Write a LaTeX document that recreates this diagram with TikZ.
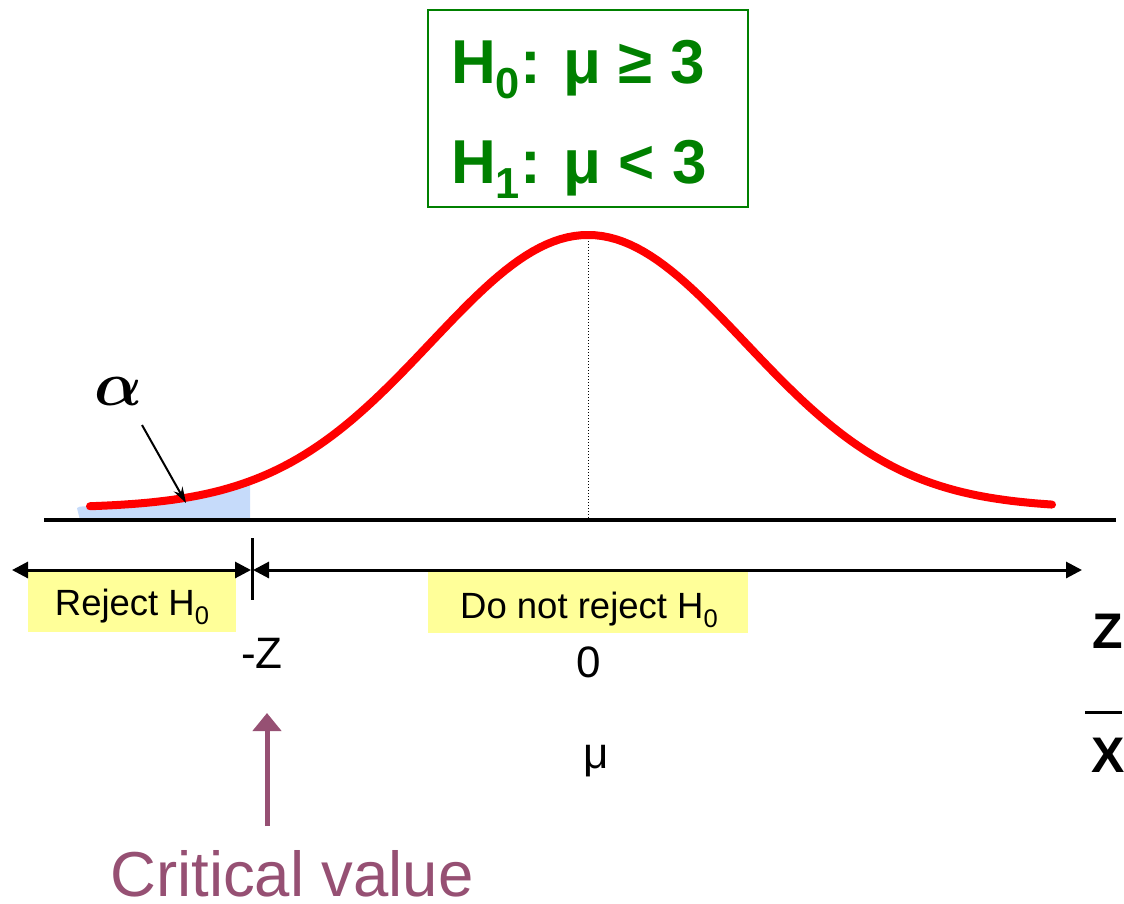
\documentclass[tikz,border=0pt]{standalone}
\usepackage{amsmath}
\usepackage{fontspec}
\setmainfont{Liberation Sans}
\usepackage{graphicx}
\usetikzlibrary{arrows.meta}
\definecolor{hgreen}{RGB}{0,128,0}
\definecolor{tailblue}{RGB}{198,219,250}
\definecolor{critpurple}{RGB}{150,80,115}
\definecolor{lbl}{RGB}{255,255,153}
\newcommand{\fs}[1]{\fontsize{#1}{#1}\selectfont}
\newcommand{\lowsub}[1]{\raisebox{-0.25em}{\scalebox{0.7}{#1}}}
\begin{document}
\begin{tikzpicture}[x=1pt,y=-1pt,
  hyp/.style={draw=hgreen, line width=1.6pt, minimum width=320pt, minimum height=197pt, inner sep=0pt},
  hyptext/.style={anchor=base west, text=hgreen, font=\fs{62}\bfseries, inner sep=0pt},
  zone/.style={fill=lbl, inner sep=0pt},
  zonetext/.style={font=\fs{36.5}, anchor=base, inner sep=0pt},
  axislbl/.style={font=\fs{44}, anchor=base, inner sep=0pt},
  varlbl/.style={font=\fs{50}\bfseries, anchor=base, inner sep=0pt},
  rangearrow/.style={line width=3pt, {Triangle[length=16pt,width=16pt]}-{Triangle[length=16pt,width=16pt]}},
  bell/.style={red, line width=8pt, line cap=round, line join=round},
  critarrow/.style={critpurple, line width=5pt, -{Triangle[length=18pt,width=28pt]}},
  critlbl/.style={text=critpurple, font=\fs{63.5}, anchor=base, inner sep=0pt}
]
\useasboundingbox (0,0) rectangle (1124,903);

% hypotheses box
\node[hyp] (hyp) at (588,108.5) {};
\node[hyptext] (h0) at (451,83) {H\lowsub{0}: μ ≥ 3};
\node[hyptext] (h1) at (451,183) {H\lowsub{1}: μ < 3};

% shaded tail
\fill[tailblue] (77,508) -- plot[domain=80:250,samples=30] (\x,{508-273*exp(-0.5*((\x-588)/157)^2)}) -- (250,520) -- (80,520) -- cycle;

% axis
\coordinate (axL) at (44,520);
\coordinate (axR) at (1116,520);
\coordinate (peak) at (588,235);
\coordinate (peakfoot) at (588,520);
\draw[line width=4pt] (axL) -- (axR);
\draw[dotted, line width=1pt] (peak) -- (peakfoot);

% bell curve
\draw[bell] plot[domain=90:1052,samples=140] (\x,{508-273*exp(-0.5*((\x-588)/157)^2)});

% alpha
\node[anchor=base, inner sep=0pt] (alpha) at (118,405) {\scalebox{6.3}{$\boldsymbol{\alpha}$}};
\coordinate (alphatail) at (142,425);
\coordinate (alphatip) at (186,503);
\draw[line width=2pt, -{Stealth[length=16pt,width=10pt]}] (alphatail) -- (alphatip);

% region labels
\node[zone, minimum width=208pt, minimum height=60pt] (rejbox) at (132,602) {};
\node[zonetext] (rej) at (132,615) {Reject H\lowsub{0}};
\node[zone, minimum width=320pt, minimum height=61pt] (dnrbox) at (588,602.5) {};
\node[zonetext] (dnr) at (589,618) {Do not reject H\lowsub{0}};

% range arrows
\coordinate (rL) at (12,570);
\coordinate (cL) at (251,570);
\coordinate (cR) at (253,570);
\coordinate (rR) at (1082,570);
\coordinate (tickT) at (252,538);
\coordinate (tickB) at (252,600);
\draw[rangearrow] (rL) -- (cL);
\draw[rangearrow] (cR) -- (rR);
\draw[line width=3pt] (tickT) -- (tickB);

% axis labels
\node[axislbl] (negz) at (262,668) {-Z};
\node[axislbl] (zero) at (589,677) {0};
\node[axislbl] (mu) at (596,768) {μ};
\node[varlbl] (zlbl) at (1108,648) {Z};
\node[varlbl] (xlbl) at (1108,772) {X};
\draw[line width=3pt] (1085,712) -- (1122,712);

% critical value
\coordinate (cvtail) at (267,826);
\coordinate (cvtip) at (267,713);
\draw[critarrow] (cvtail) -- (cvtip);
\node[critlbl] (crit) at (292,896) {Critical value};
\end{tikzpicture}
\end{document}
